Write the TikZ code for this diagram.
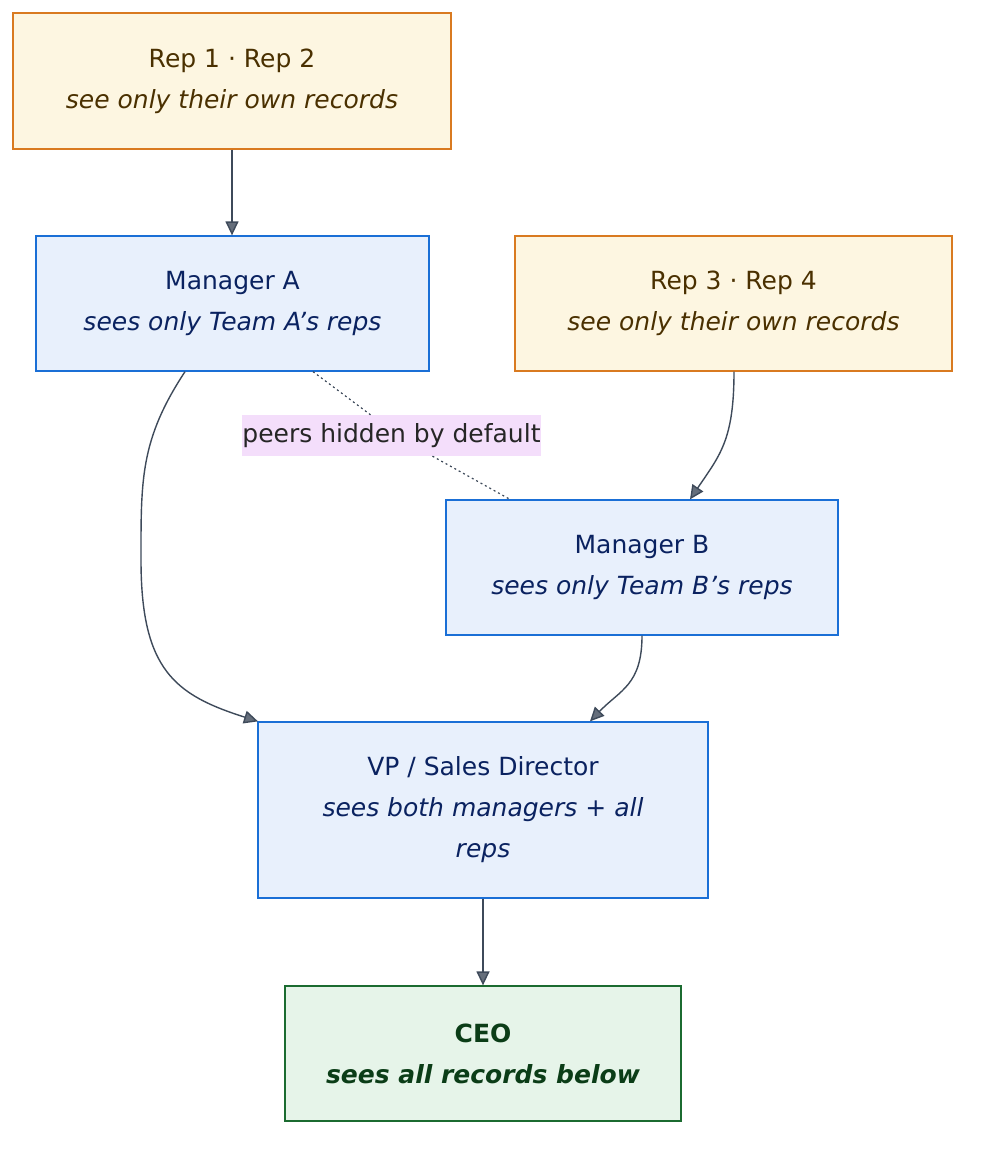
\documentclass[tikz,border=0pt]{standalone}
\usepackage{fontspec}
\setmainfont{DejaVu Sans}
\usetikzlibrary{arrows.meta,positioning}

\definecolor{repfill}{HTML}{FDF6E1}
\definecolor{repline}{HTML}{D97A20}
\definecolor{reptext}{HTML}{4A3000}
\definecolor{mgrfill}{HTML}{E8F0FC}
\definecolor{mgrline}{HTML}{1A6FD6}
\definecolor{mgrtext}{HTML}{0A2260}
\definecolor{ceofill}{HTML}{E6F4E9}
\definecolor{ceoline}{HTML}{1B6B30}
\definecolor{ceotext}{HTML}{0B3D17}
\definecolor{peerfill}{HTML}{F4DEFB}
\definecolor{linkcol}{HTML}{3E4A5A}

\tikzset{
  box/.style = {shape = rectangle, draw, line width = 1.3pt, align = center,
    font = \fontsize{25}{41}\selectfont, inner sep = 0pt},
  repbox/.style = {box, fill = repfill, draw = repline, text = reptext,
    minimum width = 438pt, minimum height = 136pt},
  mgrbox/.style = {box, fill = mgrfill, draw = mgrline, text = mgrtext,
    minimum width = 393pt, minimum height = 135pt},
  ceobox/.style = {box, fill = ceofill, draw = ceoline, text = ceotext,
    font = \fontsize{25}{41}\selectfont\bfseries,
    minimum width = 396pt, minimum height = 135pt},
  link/.style = {draw = linkcol, line width = 1.4pt,
    -{Triangle[length=14pt,width=13pt,fill=linkcol!80]}},
  peer/.style = {draw = linkcol, line width = 1.2pt, dash pattern = on 2pt off 3pt}
}

\begin{document}
\begin{tikzpicture}[x = 1pt, y = -1pt]
\useasboundingbox (0,0) rectangle (980,1151);

\node[repbox] (rep12) at (232,81) {Rep 1 · Rep 2\\ \textit{see only their own records}};
\node[mgrbox] (mgrA) at (232.5,303.5) {Manager A\\ \textit{sees only Team A's reps}};
\node[repbox, minimum width = 437pt, minimum height = 135pt] (rep34) at (733.5,303.5) {Rep 3 · Rep 4\\ \textit{see only their own records}};
\node[mgrbox, minimum width = 392pt] (mgrB) at (642,567.5) {Manager B\\ \textit{sees only Team B's reps}};
\node[mgrbox, minimum width = 450pt, minimum height = 176pt] (vp) at (483,810) {VP / Sales Director\\ \textit{sees both managers + all}\\ \textit{reps}};
\node[ceobox] (ceo) at (483,1053.5) {CEO\\ \textit{sees all records below}};
\node[fill = peerfill, text = black!85, inner sep = 0pt,
      minimum width = 297pt, minimum height = 41pt,
      font = \fontsize{25}{30}\selectfont] (peerlbl) at (391.5,435.5) {peers hidden by default};

% reporting lines
\draw[link] (rep12.south) -- (rep12.south |- mgrA.north);
\draw[link] ([xshift=-47.5pt]mgrA.south) .. controls (140,440) and (141,480) .. (141,560)
  .. controls (141,670) and (175,695) .. ([xshift=-225pt]vp.north);
\draw[link] ([xshift=0.5pt]rep34.south) .. controls (734,440) and (720,455) .. ([xshift=48pt]mgrB.north);
\draw[link] (mgrB.south) .. controls (642,685) and (620,690) .. ([xshift=107pt]vp.north);
\draw[link] (vp.south) -- (ceo.north);

% peers
\draw[peer] ([xshift=80.5pt]mgrA.south) -- ([xshift=-21pt]peerlbl.north);
\draw[peer] ([xshift=41pt]peerlbl.south) -- ([xshift=-132pt]mgrB.north);
\end{tikzpicture}
\end{document}
